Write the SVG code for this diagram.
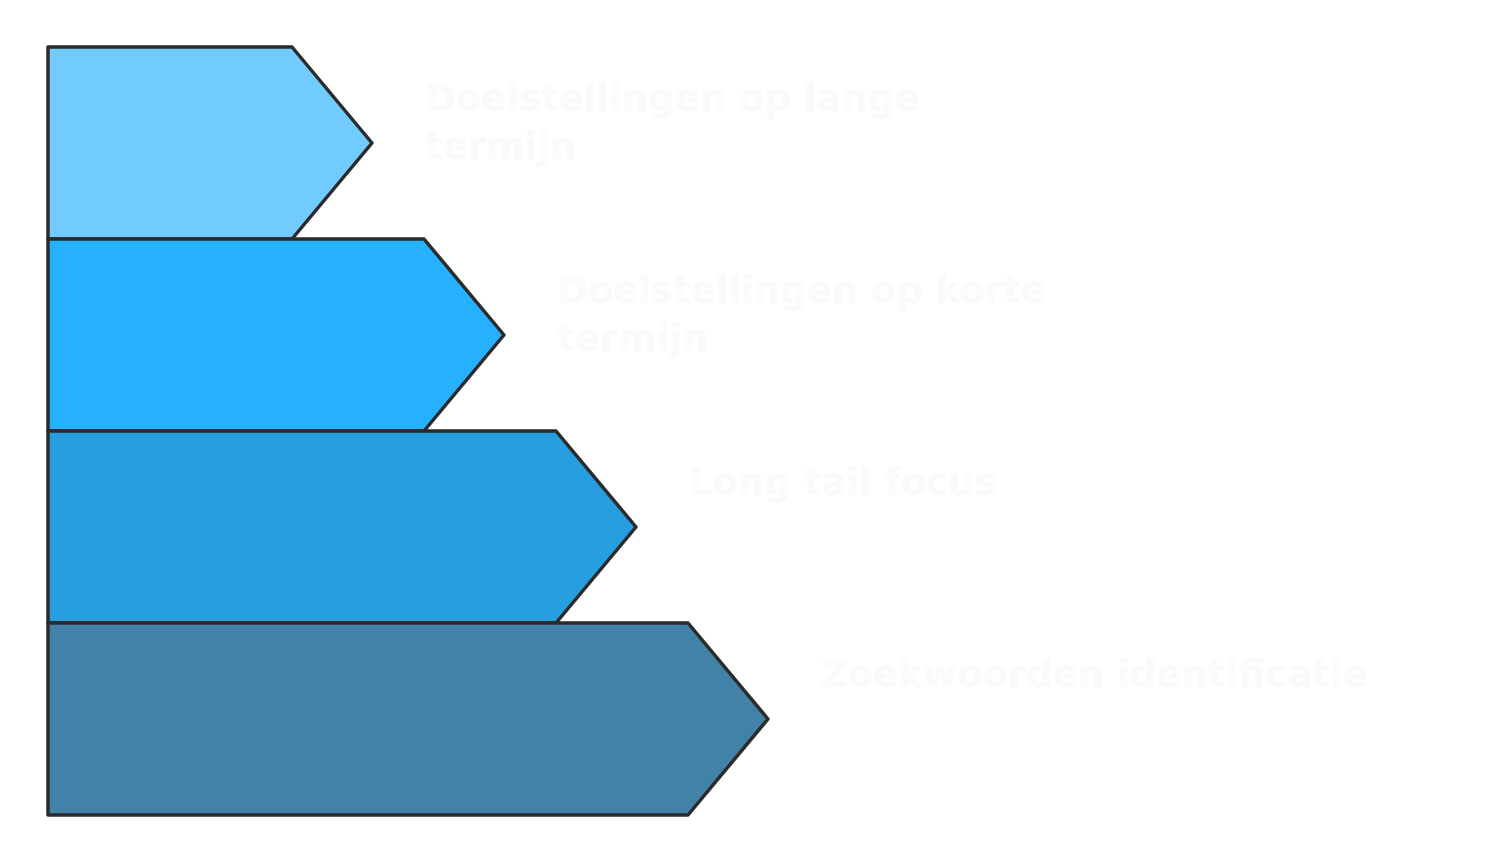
<svg xmlns="http://www.w3.org/2000/svg" width="1512" height="863" viewBox="0 0 1512 863">
<style>
.shape{stroke:#2b2b2b;stroke-width:3.5;stroke-linejoin:round}
.lbl{font-family:"DejaVu Sans","Liberation Sans",sans-serif;font-weight:bold;font-size:37px;fill:#fafafa}
</style>
<rect width="1512" height="863" fill="#ffffff"/>
<g id="connectors"></g>
<g id="node1">
<polygon class="shape" fill="#72cbfe" points="48,47 292,47 372,143 292,239 48,239"/>
<text class="lbl" x="425" y="111">Doelstellingen op lange</text>
<text class="lbl" x="425" y="159">termijn</text>
</g>
<g id="node2">
<polygon class="shape" fill="#25b1fe" points="48,239 424,239 504,335 424,431 48,431"/>
<text class="lbl" x="557" y="303">Doelstellingen op korte</text>
<text class="lbl" x="557" y="351">termijn</text>
</g>
<g id="node3">
<polygon class="shape" fill="#279ee0" points="48,431 556,431 636,527 556,623 48,623"/>
<text class="lbl" x="689" y="495">Long tail focus</text>
</g>
<g id="node4">
<polygon class="shape" fill="#4282a8" points="48,623 688,623 768,719 688,815 48,815"/>
<text class="lbl" x="821" y="687">Zoekwoorden identificatie</text>
</g>
</svg>
